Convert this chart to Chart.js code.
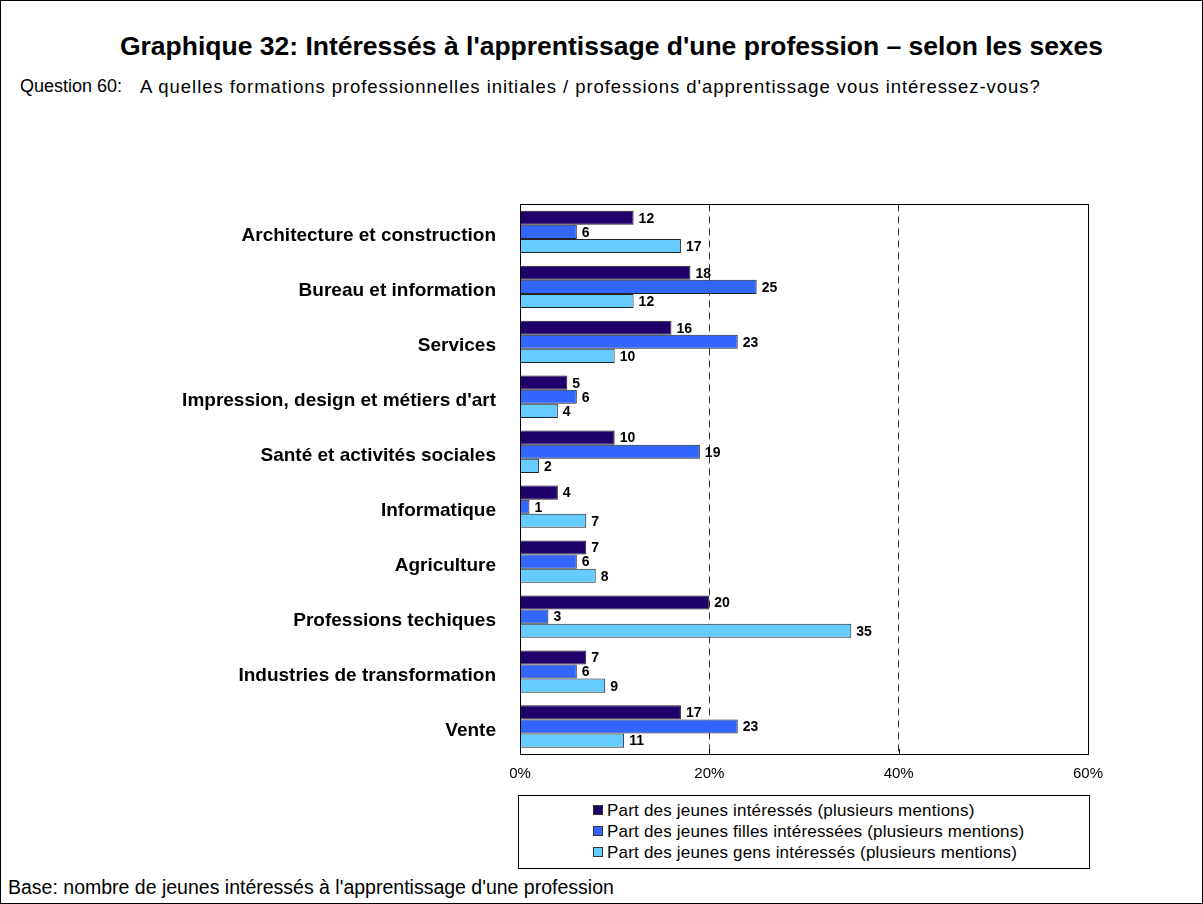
<!DOCTYPE html>
<html>
<head>
<meta charset="utf-8">
<script src="https://cdn.jsdelivr.net/npm/chart.js@4/dist/chart.umd.min.js"></script>
<style>
  body { margin: 0; background: #fff; font-family: 'Liberation Sans', Arial, sans-serif; color: #000; }
  #frame { position: absolute; left: 0; top: 0; width: 1201px; height: 902px; border: 1px solid #000; }
  #title { position: absolute; left: 0; width: 1203px; top: 31px; text-align: center; font-weight: bold; font-size: 26.5px; padding-left: 20px; box-sizing: border-box; }
  #qnum { position: absolute; left: 20px; top: 76px; font-size: 18px; }
  #qtext { position: absolute; left: 140px; top: 76px; font-size: 18.5px; letter-spacing: 0.95px; }
  #chart { position: absolute; left: 0; top: 177px; }
  #legend { position: absolute; left: 518px; top: 795px; width: 570px; height: 72px; border: 1px solid #000; font-size: 17px; }
  .item { position: absolute; left: 74px; height: 20px; line-height: 20px; white-space: nowrap; letter-spacing: 0.2px; }
  .sw { display: inline-block; width: 8px; height: 8px; border: 1px solid #333; margin-right: 4px; vertical-align: 1px; }
  #base { position: absolute; left: 8px; top: 876px; font-size: 19.5px; }
</style>
</head>
<body>
<div id="frame"></div>
<div id="title">Graphique 32: Intéressés à l'apprentissage d'une profession – selon les sexes</div>
<div id="qnum">Question 60:</div>
<div id="qtext">A quelles formations professionnelles initiales / professions d'apprentissage vous intéressez-vous?</div>
<canvas id="chart" width="1203" height="613"></canvas>
<div id="legend"></div>
<div id="base">Base: nombre de jeunes intéressés à l'apprentissage d'une profession</div>
<script>
var categories = ['Architecture et construction', 'Bureau et information', 'Services',
  "Impression, design et métiers d'art", 'Santé et activités sociales', 'Informatique',
  'Agriculture', 'Professions techiques', 'Industries de transformation', 'Vente']
var seriesNames = ['Part des jeunes intéressés (plusieurs mentions)',
  'Part des jeunes filles intéressées (plusieurs mentions)',
  'Part des jeunes gens intéressés (plusieurs mentions)']
var tous = [12, 18, 16, 5, 10, 4, 7, 20, 7, 17]
var filles = [6, 25, 23, 6, 19, 1, 6, 3, 6, 23]
var garcons = [17, 12, 10, 4, 2, 7, 8, 35, 9, 11]
var xTicks = [0, 20, 40, 60]
var colors = ['#1f006b', '#3366ff', '#66ccff']

// legend box
var leg = document.getElementById('legend')
seriesNames.forEach((name, i) => {
  let d = document.createElement('div')
  d.className = 'item'
  d.style.top = (5 + i * 21) + 'px'
  d.innerHTML = '<span class="sw" style="background:' + colors[i] + '"></span>' + name
  leg.appendChild(d)
})

// value labels next to bars + plot frame
const labelsPlugin = {
  id: 'barLabels',
  afterDatasetsDraw(chart) {
    const c = chart.ctx
    c.save()
    c.font = 'bold 14px "Liberation Sans", Arial, sans-serif'
    c.fillStyle = '#000'
    c.textBaseline = 'middle'
    chart.data.datasets.forEach((ds, i) => {
      chart.getDatasetMeta(i).data.forEach((el, j) => {
        c.fillText(ds.data[j], el.x + 5, el.y + 1)
      })
    })
    const a = chart.chartArea
    const xs = chart.scales.x
    c.strokeStyle = '#000'
    c.lineWidth = 1
    c.strokeRect(Math.round(a.left) + 0.5, Math.round(a.top) + 0.5, Math.round(a.right - a.left), Math.round(a.bottom - a.top))
    c.beginPath()
    xTicks.forEach(t => {
      let x = Math.round(xs.getPixelForValue(t)) + 0.5
      c.moveTo(x, a.bottom)
      c.lineTo(x, a.bottom - 5)
    })
    c.stroke()
    c.restore()
  }
}

const ctx = document.getElementById('chart')
new Chart(ctx, {
  type: 'bar',
  data: {
    labels: categories,
    datasets: [tous, filles, garcons].map((vals, i) => ({
      label: seriesNames[i],
      data: vals,
      backgroundColor: colors[i],
      borderColor: '#222',
      borderWidth: 1,
      barPercentage: 1,
      categoryPercentage: 0.77
    }))
  },
  options: {
    indexAxis: 'y',
    responsive: false,
    animation: false,
    layout: { padding: { top: 14, right: 115, left: 0, bottom: 0 } },
    plugins: { legend: { display: false }, tooltip: { enabled: false } },
    scales: {
      x: {
        min: 0, max: 60,
        afterBuildTicks: s => { s.ticks = xTicks.map(v => ({ value: v })) },
        afterFit: s => { s.height = 36 },
        ticks: {
          callback: v => v + '%',
          color: '#000',
          padding: 11,
          maxRotation: 0,
          font: { family: '"Liberation Sans", Arial, sans-serif', size: 15 }
        },
        grid: { color: '#333', drawTicks: false, lineWidth: 1 },
        border: { display: false, dash: [7, 5] }
      },
      y: {
        afterFit: s => { s.width = 520 },
        ticks: {
          color: '#000',
          padding: 16,
          labelOffset: 4,
          font: { family: '"Liberation Sans", Arial, sans-serif', size: 19, weight: 'bold' }
        },
        grid: { display: false },
        border: { display: false }
      }
    }
  },
  plugins: [labelsPlugin]
})
</script>
</body>
</html>
